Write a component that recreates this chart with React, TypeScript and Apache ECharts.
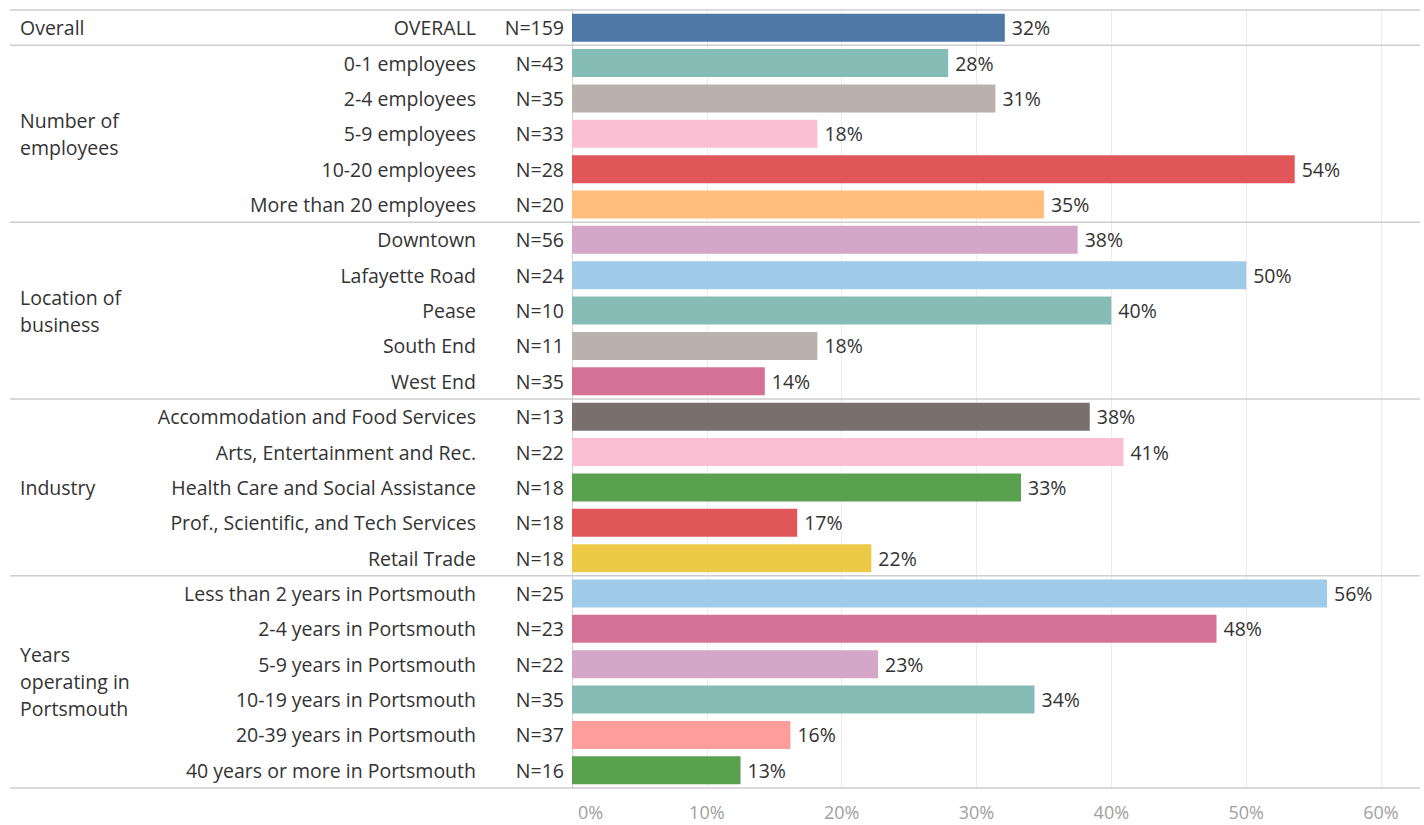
import React, { useEffect, useRef } from "react";
import * as echarts from "echarts";

const categories = [
  "OVERALL",
  "0-1 employees",
  "2-4 employees",
  "5-9 employees",
  "10-20 employees",
  "More than 20 employees",
  "Downtown",
  "Lafayette Road",
  "Pease",
  "South End",
  "West End",
  "Accommodation and Food Services",
  "Arts, Entertainment and Rec.",
  "Health Care and Social Assistance",
  "Prof., Scientific, and Tech Services",
  "Retail Trade",
  "Less than 2 years in Portsmouth",
  "2-4 years in Portsmouth",
  "5-9 years in Portsmouth",
  "10-19 years in Portsmouth",
  "20-39 years in Portsmouth",
  "40 years or more in Portsmouth",
];
const sampleSizes = [159, 43, 35, 33, 28, 20, 56, 24, 10, 11, 35, 13, 22, 18, 18, 18, 25, 23, 22, 35, 37, 16];
const shares = [
  0.321, 0.279, 0.314, 0.182, 0.536, 0.35, 0.375, 0.5, 0.4, 0.182, 0.143, 0.384, 0.409, 0.333, 0.167, 0.222,
  0.56, 0.478, 0.227, 0.343, 0.162, 0.125,
];
const barColors = [
  "#4e79a7", "#86bcb6", "#bab0ac", "#fabfd2", "#e15759", "#ffbe7d", "#d4a6c8", "#a0cbe8", "#86bcb6", "#bab0ac",
  "#d37295", "#79706e", "#fabfd2", "#59a14f", "#e15759", "#edc948", "#a0cbe8", "#d37295", "#d4a6c8", "#86bcb6",
  "#ff9d9a", "#59a14f",
];
const groupNames = ["Overall", "Number of\nemployees", "Location of\nbusiness", "Industry", "Years\noperating in\nPortsmouth"];
const groupSizes = [1, 5, 5, 5, 6];
const xTicks = [0, 0.1, 0.2, 0.3, 0.4, 0.5, 0.6];

const FONT = "'Open Sans', sans-serif";
const FS = 19.5;
const pct = (v: number) => Math.round(v * 100) + "%";

export default function App() {
  const ref = useRef<HTMLDivElement>(null);
  useEffect(() => {
    if (!ref.current) return;
    const chart = echarts.init(ref.current, undefined, { renderer: "svg" });
    chart.setOption({
      animation: false,
      backgroundColor: "#ffffff",
      textStyle: { fontFamily: FONT },
      grid: { left: 572, right: 43, top: 10, bottom: 37, containLabel: false },
      xAxis: {
        type: "value",
        min: xTicks[0],
        max: xTicks[xTicks.length - 1],
        interval: 0.1,
        axisLine: { show: false },
        axisTick: { show: false },
        splitLine: { show: true, lineStyle: { color: "#ececec", width: 1 } },
        axisLabel: {
          formatter: (v: number) => (v === 0 ? `{z|${pct(v)}}` : pct(v)),
          color: "#a0a0a0",
          fontSize: 18,
          fontFamily: FONT,
          margin: 15,
          alignMinLabel: "left",
          rich: { z: { padding: [0, 0, 0, 6], color: "#a0a0a0", fontSize: 18, fontFamily: FONT } },
        },
      },
      yAxis: {
        type: "category",
        data: categories,
        inverse: true,
        axisTick: { show: false },
        axisLine: { show: true, lineStyle: { color: "#cfcfcf", type: "dashed", width: 1 } },
        axisLabel: {
          margin: 8,
          color: "#333333",
          fontSize: FS,
          fontFamily: FONT,
          formatter: (v: string, i: number) => `{a|${v}}{b|N=${sampleSizes[i]}}`,
          rich: {
            a: { width: 380, align: "right", fontSize: FS, color: "#333333", fontFamily: FONT },
            b: { width: 88, align: "right", fontSize: FS, color: "#333333", fontFamily: FONT },
          },
        },
      },
      series: [
        {
          type: "bar",
          barWidth: 28,
          data: shares.map((v, i) => ({ value: v, itemStyle: { color: barColors[i] } })),
          label: {
            show: true,
            position: "right",
            distance: 7,
            color: "#333333",
            fontSize: FS,
            fontFamily: FONT,
            formatter: (p: any) => pct(p.value),
          },
        },
      ],
    });

    // separators & group labels positioned via the axis scale
    const yOf = (i: number) => chart.convertToPixel({ yAxisIndex: 0 }, i) as number;
    const half = (yOf(1) - yOf(0)) / 2;
    const graphics: any[] = [];
    let start = 0;
    const boundaries: number[] = [yOf(0) - half];
    groupSizes.forEach((size, g) => {
      const end = start + size - 1;
      const cy = (yOf(start) + yOf(end)) / 2;
      graphics.push({
        type: "text",
        x: 20,
        y: cy,
        style: {
          text: groupNames[g],
          fill: "#333333",
          font: `${FS}px ${FONT}`,
          lineHeight: 27,
          verticalAlign: "middle",
          align: "left",
        },
      });
      boundaries.push(yOf(end) + half);
      start = end + 1;
    });
    boundaries.forEach((by) => {
      graphics.push({
        type: "line",
        shape: { x1: 10, y1: by, x2: 1420, y2: by },
        style: { stroke: "#cdcdcd", lineWidth: 1.5 },
        z: 10,
      });
    });
    chart.setOption({ graphic: graphics });

    return () => chart.dispose();
  }, []);
  return <div ref={ref} style={{ position: "fixed", left: 0, top: 0, width: 1424, height: 825 }} />;
}
